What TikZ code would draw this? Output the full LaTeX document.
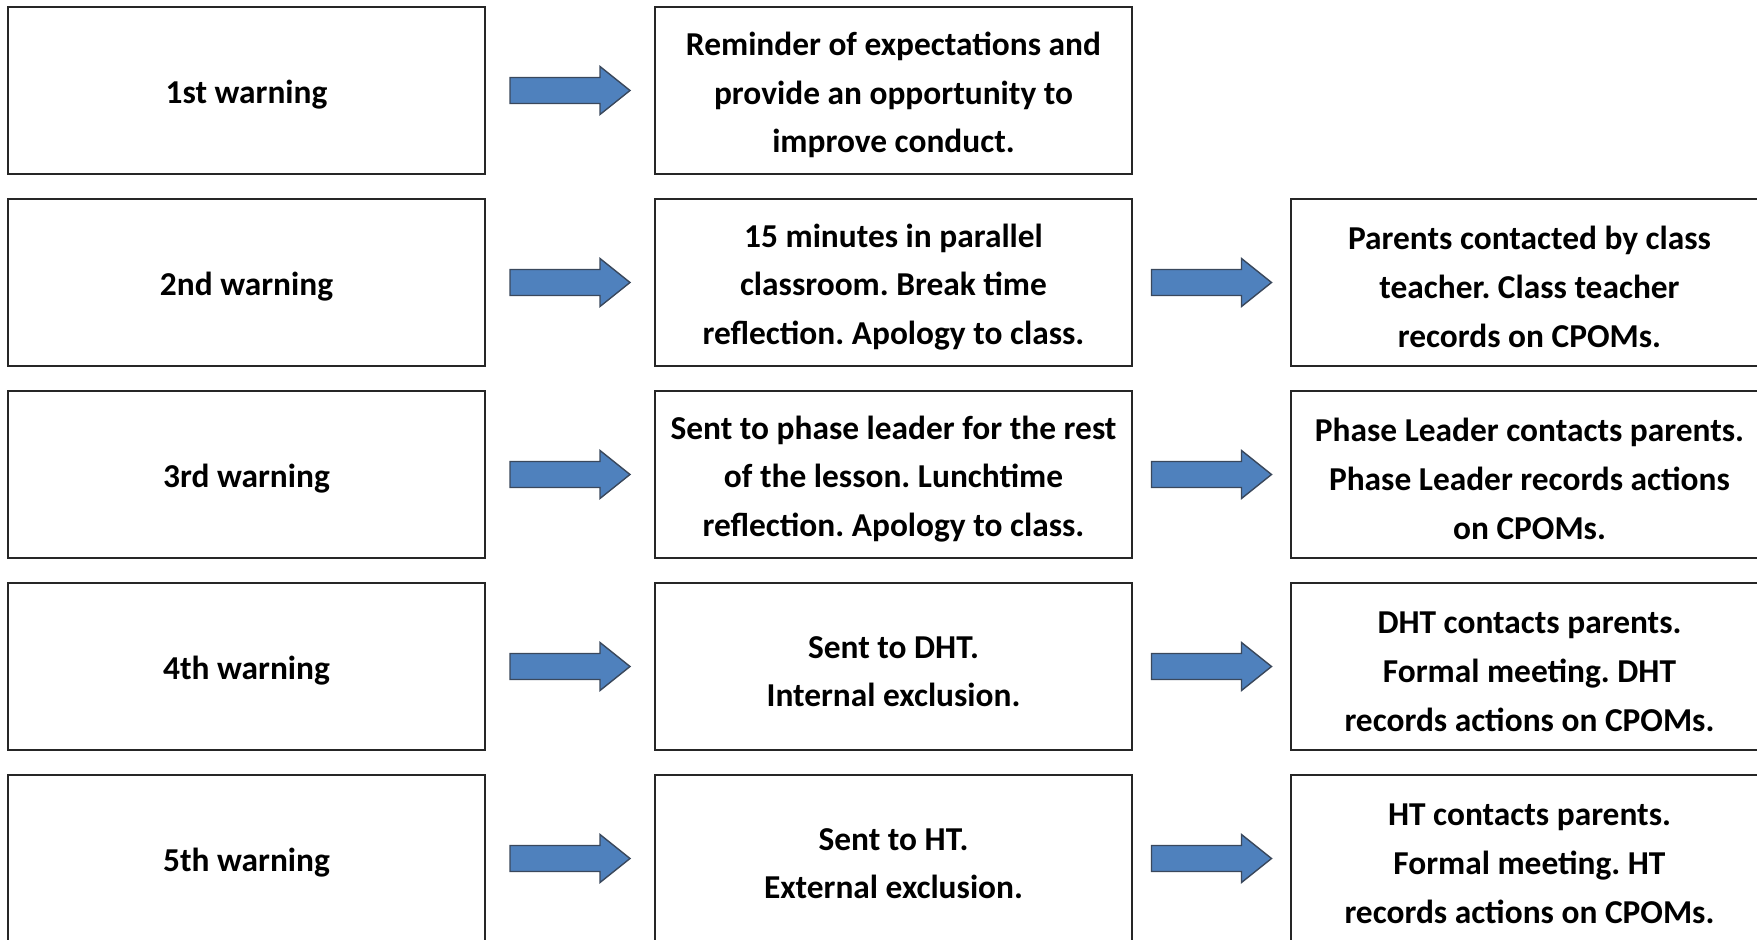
\documentclass[tikz,border=0pt]{standalone}
\usepackage{fontspec}
\setmainfont{Carlito}
\frenchspacing
\usetikzlibrary{positioning,%
                calc%
              }
\definecolor{arrowblue}{RGB}{79,129,189}
\definecolor{arrowedge}{RGB}{58,72,92}
\def\toprule{\rule{0pt}{16.2pt}}% pushes the lines a little down
% row / first column / second column
\def\warnrows{%
  {1/1st warning/{Reminder of expectations and\\provide an opportunity to\\improve conduct.}},%
  {2/2nd warning/{15 minutes in parallel\\classroom. Break time\\reflection. Apology to class.}},%
  {3/3rd warning/{Sent to phase leader for the rest\\of the lesson. Lunchtime\\reflection. Apology to class.}},%
  {4/4th warning/{Sent to DHT.\\Internal exclusion.}},%
  {5/5th warning/{Sent to HT.\\External exclusion.}}%
}
% row / third column
\def\contactrows{%
  {2/{Parents contacted by class\\teacher. Class teacher\\records on CPOMs.}},%
  {3/{Phase Leader contacts parents.\\Phase Leader records actions\\on CPOMs.}},%
  {4/{DHT contacts parents.\\Formal meeting. DHT\\records actions on CPOMs.}},%
  {5/{HT contacts parents.\\Formal meeting. HT\\records actions on CPOMs.}}%
}
\begin{document}
\begin{tikzpicture}[x=0.5pt,y=-0.5pt,%
    stagebox/.style={rectangle, draw=black!85, line width=0.75pt,%
      minimum width=238.5pt, minimum height=83.5pt, inner sep=0pt,%
      align=center, font=\bfseries\fontsize{16.7}{24.35}\selectfont},%
    blockarrow/.style={fill=arrowblue, draw=arrowedge, line width=0.7pt,%
      line join=miter}]%

  \path[use as bounding box, clip] (0,0) rectangle (1757,940);

  \foreach \n/\wtext/\stext in \warnrows {%
    \node[stagebox] (w\n) at (246.5,{90.5+192*(\n-1)}) {\toprule\wtext};%
    \node[stagebox] (s\n) at (893.5,{90.5+192*(\n-1)}) {\toprule\stext};%
  }
  \foreach \n/\ctext in \contactrows {%
    \node[stagebox] (c\n) at (1529.5,{90.5+192*(\n-1)}) {\toprule\ctext};%
  }

  % block arrows between the columns
  \foreach \from/\to in {w1/s1, w2/s2, w3/s3, w4/s4, w5/s5,%
                         s2/c2, s3/c3, s4/c4, s5/c5} {%
    \draw[blockarrow] ($(\from.east)!0.5!(\to.west)+(-60,-13)$) %
      -- ++(90,0) -- ++(0,-11) -- ++(30,24) -- ++(-30,24) %
      -- ++(0,-11) -- ++(-90,0) -- cycle;%
  }

\end{tikzpicture}
\end{document}
